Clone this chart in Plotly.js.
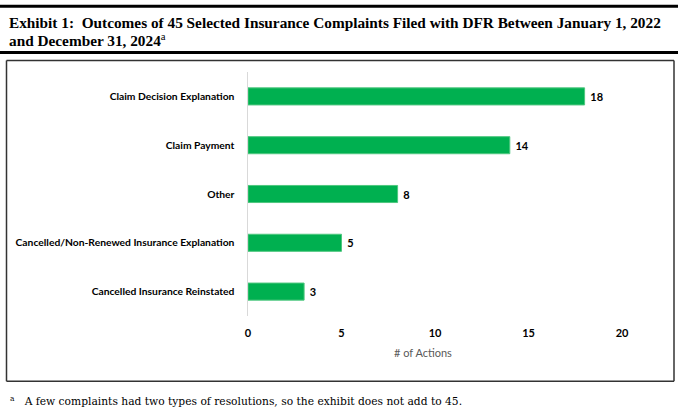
<!DOCTYPE html>
<html>
<head>
<meta charset="utf-8">
<script src="https://cdn.plot.ly/plotly-3.0.1.min.js"></script>
<style>
html,body{margin:0;padding:0;background:#fff;}
#chart{width:680px;height:414px;}
</style>
</head>
<body>
<div id="chart"></div>
<script>
// Data
const categories = [
  "Claim Decision Explanation",
  "Claim Payment",
  "Other",
  "Cancelled/Non-Renewed Insurance Explanation",
  "Cancelled Insurance Reinstated"
];
const actions = [18, 14, 8, 5, 3];
const xTicks = [0, 5, 10, 15, 20];

const W = 680, H = 414;
const L = 248, R = 622, T = 71.5, B = 316.5;
const px = x => (x - L) / (R - L);
const py = y => (B - y) / (B - T);

function hline(x0, x1, y, w, c) {
  return {type:'line', xref:'paper', yref:'paper', x0:px(x0), x1:px(x1), y0:py(y), y1:py(y),
          line:{color:c, width:w}, layer:'above'};
}
function vline(x, y0, y1, w, c) {
  return {type:'line', xref:'paper', yref:'paper', x0:px(x), x1:px(x), y0:py(y0), y1:py(y1),
          line:{color:c, width:w}, layer:'above'};
}

const serif = "'Liberation Serif', 'DejaVu Serif', serif";
const sans = "Lato, 'Open Sans', sans-serif";

const trace = {
  type: 'bar',
  orientation: 'h',
  y: categories,
  x: actions,
  width: 0.35,
  marker: {color: '#00b050', line: {color: '#4fc77f', width: 1}},
  text: actions.map(v => '\u00a0' + v),
  textposition: 'outside',
  cliponaxis: false,
  textfont: {family: sans, size: 11, color: '#000', weight: 'bold'},
  hoverinfo: 'none'
};

const layout = {
  width: W, height: H,
  margin: {l: L, r: W - R, t: T, b: H - B, pad: 0},
  paper_bgcolor: '#fff', plot_bgcolor: '#fff',
  showlegend: false,
  bargap: 0.65,
  xaxis: {
    range: [0, 20],
    tickvals: xTicks,
    ticktext: xTicks.map(String),
    showgrid: false, zeroline: false, showline: false,
    ticks: 'outside', ticklen: 7, tickcolor: 'rgba(0,0,0,0)',
    tickfont: {family: sans, size: 11, color: '#000', weight: 'bold'},
    fixedrange: true
  },
  yaxis: {
    autorange: 'reversed',
    showgrid: false, zeroline: false,
    showline: true, linecolor: '#d9d9d9', linewidth: 1.5,
    ticks: 'outside', ticklen: 10, tickcolor: 'rgba(0,0,0,0)',
    tickfont: {family: sans, size: 10.3, color: '#000', weight: 'bold'},
    fixedrange: true
  },
  annotations: [
    {xref:'paper', yref:'paper', x:px(7), y:py(22), xanchor:'left', yanchor:'middle', showarrow:false,
     text:'<b>Exhibit 1:  Outcomes of 45 Selected Insurance Complaints Filed with DFR Between January 1, 2022</b>',
     font:{family: serif, size: 15.3, color:'#000'}},
    {xref:'paper', yref:'paper', x:px(7), y:py(39), xanchor:'left', yanchor:'middle', showarrow:false,
     text:'<b>and December 31, 2024</b><sup>a</sup>',
     font:{family: serif, size: 15.3, color:'#000'}},
    {xref:'paper', yref:'paper', x:px(423), y:py(353), xanchor:'center', yanchor:'middle', showarrow:false,
     text:'# of Actions', font:{family: sans, size: 11, color:'#595959'}},
    {xref:'paper', yref:'paper', x:px(8), y:py(402), xanchor:'left', yanchor:'middle', showarrow:false,
     text:'<sup>a</sup>   A few complaints had two types of resolutions, so the exhibit does not add to 45.',
     font:{family: "'DejaVu Serif', serif", size: 10.7, color:'#000'}}
  ],
  shapes: [
    hline(0, 678, 5.5, 3, '#000'),
    hline(0, 678, 52, 3, '#000'),
    // frame
    hline(6.5, 674, 60, 1.5, '#333'),
    hline(6.5, 674, 382, 1.5, '#333'),
    vline(6.5, 60, 382, 1.5, '#333'),
    vline(674, 60, 382, 1.5, '#333')
  ]
};

Plotly.newPlot('chart', [trace], layout, {displayModeBar: false, staticPlot: true});
</script>
</body>
</html>
